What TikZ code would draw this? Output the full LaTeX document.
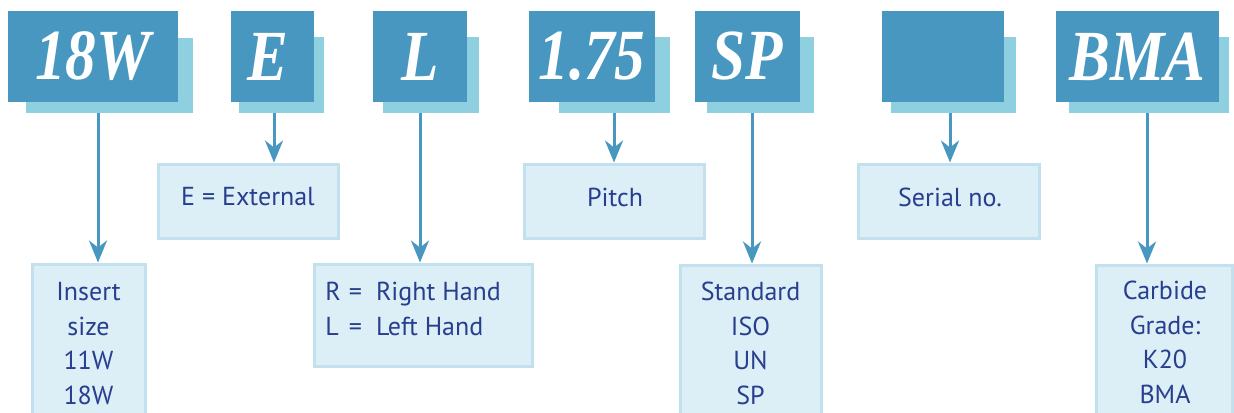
\documentclass[tikz,border=0pt]{standalone}
\usepackage{fontspec}
\usepackage{graphicx}
\setmainfont{PT Sans}
\newfontfamily\hdrfont{Liberation Serif}
\usetikzlibrary{arrows.meta,fit}
\definecolor{hdrblue}{HTML}{4797C0}
\definecolor{hdrshade}{HTML}{8ED0E0}
\definecolor{infofill}{HTML}{DCEEF6}
\definecolor{infoline}{HTML}{C3E0EE}
\definecolor{infotext}{HTML}{283E8E}
\newcommand\hdrtxt[1]{\scalebox{0.85}[1]{#1}}
\begin{document}
\begin{tikzpicture}[x=0.5pt,y=-0.5pt,
		hdr/.style={fill=hdrblue,inner sep=0pt},
		hdrlabel/.style={inner sep=0pt,text=white,font=\hdrfont\bfseries\itshape\fontsize{36}{36}\selectfont},
		hdrshadow/.style={fill=hdrshade,inner sep=0pt},
		infobox/.style={fill=infofill,draw=infoline,line width=1.5pt,inner sep=0pt},
		infotxt/.style={text=infotext,inner sep=0pt,align=center,font=\fontsize{13}{17.25}\selectfont},
		pointer/.style={draw=hdrblue,line width=1.5pt,-{Stealth[length=11pt,width=9pt,inset=3.5pt]}}]
		\useasboundingbox (0,0) rectangle (1234,412);
		\clip (0,0) rectangle (1234,412);

		% 18W
		\node [hdrshadow, fit={(26,38) (193,113)}] (s18w) {};
		\node [hdr, fit={(8,11) (178,102)}] (h18w) {};
		\node [hdrlabel] (t18w) at (93,56.5) {\hdrtxt{18W}};
		\node [infobox, fit={(32,264) (145,425)}] (ins) {};
		\node [infotxt, anchor=north] (tins) at (88.5,282) {Insert\\size\\11W\\18W};
		\coordinate (a18w) at (98,0);
		\draw [pointer] (s18w.south -| a18w) -- (ins.north -| a18w);

		% E
		\node [hdrshadow, fit={(239,37) (324,113)}] (se) {};
		\node [hdr, fit={(231,11) (314,102)}] (he) {};
		\node [hdrlabel] (te) at (268,56.5) {\hdrtxt{E}};
		\node [infobox, fit={(158,164) (338,238)}] (ext) {};
		\node [infotxt] (text) at (248,197) {E = External};
		\coordinate (ae) at (274,0);
		\draw [pointer] (se.south -| ae) -- (ext.north -| ae);

		% L
		\node [hdrshadow, fit={(383,37) (479,113)}] (sl) {};
		\node [hdr, fit={(373,11) (467,102)}] (hl) {};
		\node [hdrlabel] (tl) at (420,56.5) {\hdrtxt{L}};
		\node [infobox, fit={(314,264) (532,366)}] (hand) {};
		\node [infotxt, anchor=north west] (thand) at (325,276)
			{\begin{tabular}{@{}l@{\hspace{4pt}}c@{\hspace{7pt}}l@{}}
				R & = & Right Hand\\[0.4pt]
				L & = & Left Hand
			\end{tabular}};
		\coordinate (al) at (420,0);
		\draw [pointer] (sl.south -| al) -- (hand.north -| al);

		% 1.75
		\node [hdrshadow, fit={(559,37) (670,113)}] (spitch) {};
		\node [hdr, fit={(529,11) (655,102)}] (hpitch) {};
		\node [hdrlabel] (tpitch) at (592,56.5) {\hdrtxt{1.75}};
		\node [infobox, fit={(524,164) (704,238)}] (pitch) {};
		\node [infotxt] (tpitchbox) at (615,197) {Pitch};
		\coordinate (apitch) at (614,0);
		\draw [pointer] (spitch.south -| apitch) -- (pitch.north -| apitch);

		% SP
		\node [hdrshadow, fit={(707,37) (814,113)}] (ssp) {};
		\node [hdr, fit={(695,11) (800,102)}] (hsp) {};
		\node [hdrlabel] (tsp) at (747.5,56.5) {\hdrtxt{SP}};
		\node [infobox, fit={(680,265) (821,425)}] (std) {};
		\node [infotxt, anchor=north] (tstd) at (750.5,282) {Standard\\ISO\\UN\\SP};
		\coordinate (asp) at (752,0);
		\draw [pointer] (ssp.south -| asp) -- (std.north -| asp);

		% serial no. (empty box)
		\node [hdrshadow, fit={(891,37) (1016,113)}] (sser) {};
		\node [hdr, fit={(882,11) (1004,102)}] (hser) {};
		\node [infobox, fit={(858,164) (1039,238)}] (ser) {};
		\node [infotxt] (tser) at (950,197) {Serial no.};
		\coordinate (aser) at (950,0);
		\draw [pointer] (sser.south -| aser) -- (ser.north -| aser);

		% BMA
		\node [hdrshadow, fit={(1069,37) (1229,113)}] (sbma) {};
		\node [hdr, fit={(1056,11) (1219,102)}] (hbma) {};
		\node [hdrlabel] (tbma) at (1137.5,56.5) {\hdrtxt{BMA}};
		\node [infobox, fit={(1096,265) (1232,425)}] (carb) {};
		\node [infotxt, anchor=north] (tcarb) at (1165,281) {Carbide\\Grade:\\K20\\BMA};
		\coordinate (abma) at (1147,0);
		\draw [pointer] (sbma.south -| abma) -- (carb.north -| abma);
	\end{tikzpicture}
\end{document}
